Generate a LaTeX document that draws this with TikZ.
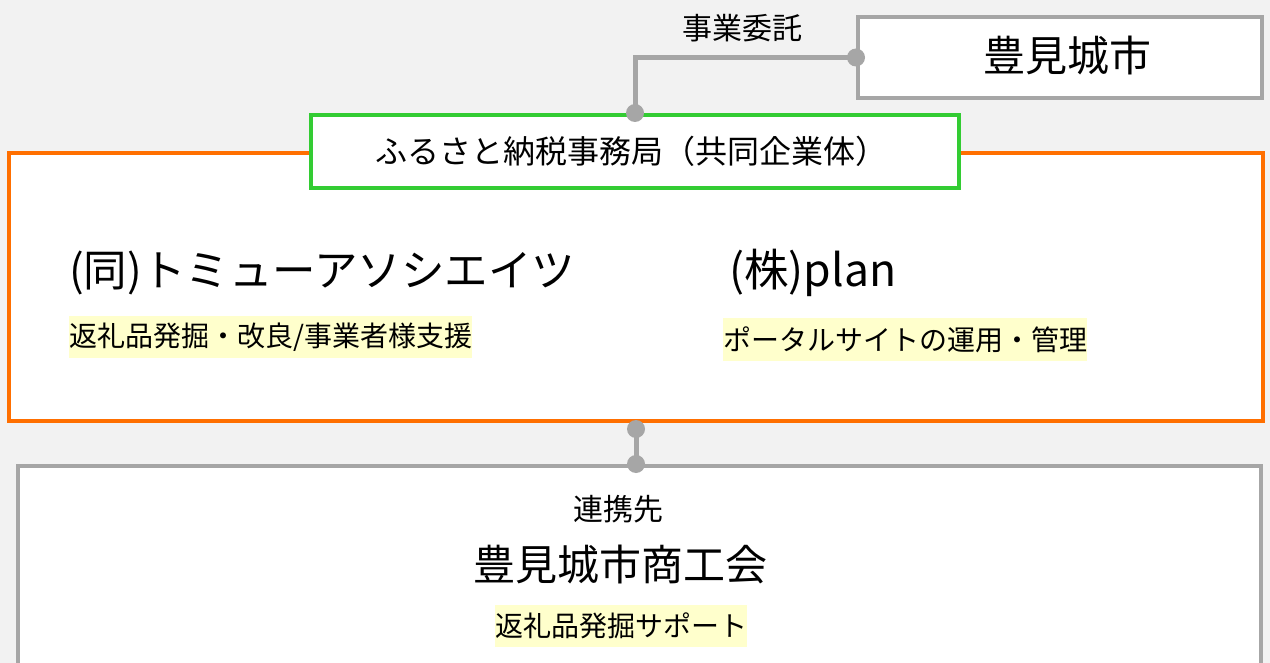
\documentclass[tikz,border=0pt]{standalone}
\usepackage{fontspec}
\newfontfamily\jp{Noto Sans CJK JP}
\definecolor{bgcolor}{HTML}{F2F2F2}
\definecolor{boxgray}{HTML}{A6A6A6}
\definecolor{orangeline}{HTML}{FF6F00}
\definecolor{greenline}{HTML}{33CC33}
\definecolor{hlyellow}{HTML}{FFFFCC}
\begin{document}
\begin{tikzpicture}[x=1pt,y=-1pt,
  every node/.style={font=\jp, text=black},
  box/.style={draw=boxgray, line width=4pt, fill=white, inner sep=0pt},
  obox/.style={draw=orangeline, line width=4pt, fill=white, inner sep=0pt},
  gbox/.style={draw=greenline, line width=4pt, fill=white, inner sep=0pt},
  conn/.style={draw=boxgray, line width=5pt},
  dotc/.style={fill=boxgray},
  small/.style={font=\jp\fontsize{28}{32}\selectfont},
  mid/.style={font=\jp\fontsize{30}{34}\selectfont},
  big/.style={font=\jp\fontsize{42}{48}\selectfont},
  bigger/.style={font=\jp\fontsize{43.5}{48}\selectfont},
  hl/.style={fill=hlyellow, inner xsep=0pt, inner ysep=0pt, minimum height=42pt},
]
\fill[bgcolor] (0,0) rectangle (1270,663);
\useasboundingbox (0,0) rectangle (1270,663);
\clip (0,0) rectangle (1270,663);

% city box
\node[box, minimum width=404pt, minimum height=81pt] (city) at (1060,57.5) {};
\node[big] (citytxt) at (1067,56) {豊見城市};

% orange frame
\node[obox, minimum width=1254pt, minimum height=268pt] (orange) at (636,287) {};
% green box
\node[gbox, minimum width=648pt, minimum height=73pt] (green) at (635,151.5) {};
\node[font=\jp\fontsize{32}{36}\selectfont] (greentxt) at (631,151) {ふるさと納税事務局（共同企業体）};

% bottom box
\node[box, minimum width=1243pt, minimum height=240pt] (bottom) at (639.5,586) {};

% connectors
\draw[conn] (city.west) -| (green.north);
\fill[dotc] (city.west) circle (9pt);
\fill[dotc] (green.north) circle (9pt);
\node[mid] (itaku) at (742,28) {事業委託};

\coordinate (c1) at ([yshift=-6pt]orange.south);
\coordinate (c2) at (c1 |- bottom.north);
\draw[conn] (c1) -- (c2);
\fill[dotc] (c1) circle (9pt);
\fill[dotc] (c2) circle (9pt);

% companies
\node[bigger, anchor=west, inner sep=0pt] (tomyu) at (69,273) {(同)トミューアソシエイツ};
\node[hl, small, anchor=west] (h1) at (69,337) {返礼品発掘・改良/事業者様支援};
\node[font=\jp\fontsize{44.5}{50}\selectfont, anchor=west, inner sep=0pt] (plan) at (729,273) {(株)plan};
\node[hl, small, anchor=west] (h2) at (723,339.5) {ポータルサイトの運用・管理};

% bottom texts
\node[mid] (renkei) at (618,509) {連携先};
\node[big] (shoko) at (620,564) {豊見城市商工会};
\node[hl, small] (h3) at (621,626) {返礼品発掘サポート};
\end{tikzpicture}
\end{document}
